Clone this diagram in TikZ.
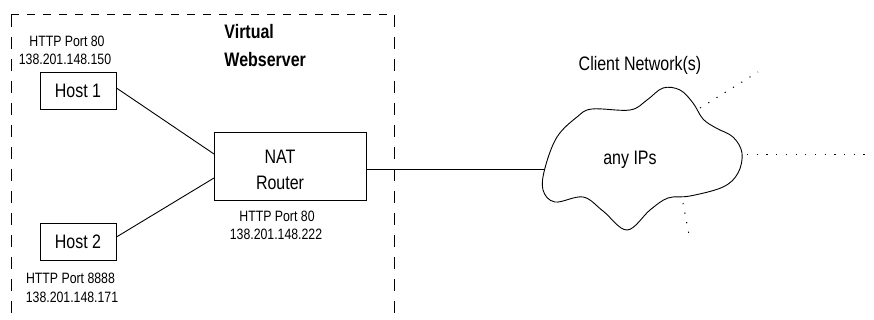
\documentclass[tikz,border=0pt]{standalone}
\usepackage{fontspec}
\setmainfont{Liberation Sans}[FakeStretch=0.82]
\begin{document}
\begin{tikzpicture}[x=1pt,y=-1pt,
  line width=0.9pt,
  big/.style={font=\fontsize{19.5}{26}\selectfont},
  small/.style={font=\fontsize{15}{18}\selectfont, inner sep=0pt},
  hostbox/.style={draw, minimum width=76pt, minimum height=37pt, inner sep=0pt, big},
  hdash/.style={dash pattern=on 8pt off 8pt, line width=1pt},
  vdash/.style={dash pattern=on 12pt off 10pt, line width=1pt},
  leak/.style={dash pattern=on 1.2pt off 8.5pt, line width=1pt}]
\useasboundingbox (0,0) rectangle (874,320);

% virtual webserver boundary (open at the bottom)
\coordinate (bl) at (11,320);
\coordinate (tl) at (11,15);
\coordinate (tr) at (394,15);
\coordinate (br) at (394,320);
\draw[hdash] (tl) -- (tr);
\draw[vdash] (tl) -- (bl);
\draw[vdash] (tr) -- (br);
\node[font=\fontsize{19.5}{26}\selectfont\bfseries, anchor=west, inner sep=0pt] (vtitle1) at (224,32) {Virtual};
\node[font=\fontsize{19.5}{26}\selectfont\bfseries, anchor=west, inner sep=0pt] (vtitle2) at (224,60) {Webserver};

% hosts
\node[hostbox] (host1) at (78,90.5) {Host 1};
\node[hostbox] (host2) at (78,241.5) {Host 2};
\node[small] (h1port) at (67,41) {HTTP Port 80};
\node[small] (h1ip) at (65,59) {138.201.148.150};
\node[small] (h2port) at (70.5,278) {HTTP Port 8888};
\node[small] (h2ip) at (72,297) {138.201.148.171};

% NAT router
\node[draw, minimum width=152pt, minimum height=68pt, inner sep=0pt] (router) at (290,166) {};
\node[big, align=center, inner sep=0pt] (routertext) at (280,170) {NAT\\Router};
\node[small] (rport) at (277,216) {HTTP Port 80};
\node[small] (rip) at (276,234) {138.201.148.222};

% links inside the webserver
\coordinate (r1) at (214,154);
\coordinate (r2) at (214,178);
\draw (host1.east |- 0,88) -- (r1);
\draw (host2.east |- 0,237) -- (r2);

% client network cloud
\draw plot[smooth cycle, tension=0.6] coordinates {
  (545,168) (557,137) (577,117) (592,109) (630,110) (647,100)
  (663,88) (680,90) (693,103) (703,119) (716,128) (733,137)
  (742,153) (738,173) (723,187) (690,196) (668,198) (650,210)
  (627,230) (603,211) (583,197) (555,202) (543,190)};
\coordinate (cloudin) at (545,169);
\node[big, inner sep=0pt] (cloudtext) at (630,160) {any IPs};
\node[big, inner sep=0pt] (cloudtitle) at (640,65) {Client Network(s)};

% uplink from the router to the client network
\draw (router.east |- cloudin) -- (cloudin);

% further networks beyond the cloud
\coordinate (c1) at (700,108);
\coordinate (e1) at (758,72);
\coordinate (c2) at (747,155);
\coordinate (e2) at (870,155);
\coordinate (c3) at (683,203);
\coordinate (e3) at (690,240);
\draw[leak] (c1) -- (e1);
\draw[leak] (c2) -- (e2);
\draw[leak] (c3) -- (e3);
\end{tikzpicture}
\end{document}
